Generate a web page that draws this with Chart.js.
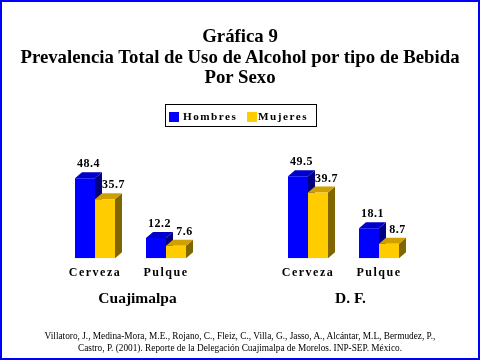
<!DOCTYPE html>
<html lang="es">
<head>
<meta charset="utf-8">
<title>Gráfica 9</title>
<script src="https://cdn.jsdelivr.net/npm/chart.js@4/dist/chart.umd.min.js"></script>
<style>
  html, body { margin: 0; padding: 0; background: #fff; }
  #page { position: relative; width: 480px; height: 360px; overflow: hidden; font-family: "Liberation Serif", "Times New Roman", serif; color: #000; }
  #frame { position: absolute; inset: 0; border: 2px solid #0000ff; box-sizing: border-box; pointer-events: none; z-index: 5; }
  #chartBox { position: absolute; left: 0; top: 0; width: 480px; height: 360px; }
  #title { position: absolute; left: 0; top: 26px; width: 480px; text-align: center; font-weight: bold; font-size: 18.8px; line-height: 20.5px; }
  #legend { position: absolute; left: 165px; top: 104px; width: 150px; height: 21px; border: 1px solid #000; font-weight: bold; font-size: 11.2px; letter-spacing: 1.5px; }
  #legend span { position: absolute; top: 4px; line-height: 14px; }
  #legend i { position: absolute; top: 7px; width: 10px; height: 10px; }
  #note { position: absolute; left: 0; top: 330px; width: 480px; text-align: center; font-size: 9.3px; line-height: 12px; }
</style>
</head>
<body>
<div id="page">
  <div id="chartBox"><canvas id="chart"></canvas></div>
  <div id="title">Gráfica 9<br>Prevalencia Total de Uso de Alcohol por tipo de Bebida<br>Por Sexo</div>
  <div id="legend"></div>
  <div id="note">Villatoro, J., Medina-Mora, M.E., Rojano, C., Fleiz, C., Villa, G., Jasso, A., Alcántar, M.L, Bermudez, P.,<br>Castro, P. (2001). Reporte de la Delegación Cuajimalpa de Morelos. INP-SEP. México.</div>
  <div id="frame"></div>
</div>
<script>
// --------------------
// Data
// --------------------
const groups = ['Cuajimalpa', 'D. F.'];
const bebidas = ['Cerveza', 'Pulque'];
const seriesNames = ['Hombres', 'Mujeres'];
// values per group, in bebidas order
const hombres = [[48.4, 12.2], [49.5, 18.1]];
const mujeres = [[35.7, 7.6], [39.7, 8.7]];

// --------------------
// Styles
// --------------------
const FRONT = ['#0000ff', '#ffcc00'];
const TOP = ['#0000c8', '#d0a000'];
const SIDE = ['#000080', '#806600'];
const DEPTH_X = 7;
const DEPTH_Y = 6;
const LABEL_SHIFT = [0, 5];

// one empty slot between the two groups
function withGap(rows) {
  const out = [];
  rows.forEach((r, i) => {
    if (i > 0) out.push(null);
    r.forEach(v => out.push(v));
  });
  return out;
}

const labels = withGap(groups.map(() => bebidas)).map(l => l || '');

// --------------------
// Legend (html)
// --------------------
function buildLegend() {
  const el = document.getElementById('legend');
  const pos = [{ box: 3, text: 17 }, { box: 81, text: 92 }];
  seriesNames.forEach((name, i) => {
    const sw = document.createElement('i');
    sw.style.left = pos[i].box + 'px';
    sw.style.background = FRONT[i];
    const tx = document.createElement('span');
    tx.style.left = pos[i].text + 'px';
    tx.textContent = name;
    el.appendChild(sw);
    el.appendChild(tx);
  });
}

// --------------------
// Plugins
// --------------------
const depthFaces = {
  id: 'depthFaces',
  beforeDraw(chart) {
    // spaced category ticks, as in the original
    chart.ctx.letterSpacing = '1.5px';
  },
  beforeDatasetsDraw(chart) {
    const ctx = chart.ctx;
    ctx.letterSpacing = '0px';
    chart.data.datasets.forEach((ds, d) => {
      chart.getDatasetMeta(d).data.forEach((bar, i) => {
        if (ds.data[i] == null) return;
        const { x, y, base, width } = bar.getProps(['x', 'y', 'base', 'width'], true);
        const x0 = x - width / 2;
        const x1 = x + width / 2;
        ctx.save();
        ctx.fillStyle = SIDE[d];
        ctx.beginPath();
        ctx.moveTo(x1, base);
        ctx.lineTo(x1 + DEPTH_X, base - DEPTH_Y);
        ctx.lineTo(x1 + DEPTH_X, y - DEPTH_Y);
        ctx.lineTo(x1, y);
        ctx.closePath();
        ctx.fill();
        ctx.fillStyle = TOP[d];
        ctx.beginPath();
        ctx.moveTo(x0, y);
        ctx.lineTo(x0 + DEPTH_X, y - DEPTH_Y);
        ctx.lineTo(x1 + DEPTH_X, y - DEPTH_Y);
        ctx.lineTo(x1, y);
        ctx.closePath();
        ctx.fill();
        ctx.restore();
      });
    });
  },
  afterDatasetsDraw(chart) {
    const ctx = chart.ctx;
    ctx.save();
    ctx.font = 'bold 12px "Liberation Serif"';
    ctx.letterSpacing = '0.5px';
    ctx.fillStyle = '#000';
    ctx.textAlign = 'center';
    ctx.textBaseline = 'alphabetic';
    chart.data.datasets.forEach((ds, d) => {
      chart.getDatasetMeta(d).data.forEach((bar, i) => {
        const v = ds.data[i];
        if (v == null) return;
        ctx.fillText(v.toFixed(1), bar.x + DEPTH_X / 2 + LABEL_SHIFT[d], bar.y - DEPTH_Y - 5);
      });
    });
    ctx.restore();
  },
  afterDraw(chart) {
    const ctx = chart.ctx;
    const xs = chart.scales.x;
    ctx.save();
    ctx.font = 'bold 15.5px "Liberation Serif"';
    ctx.letterSpacing = '0px';
    ctx.fillStyle = '#000';
    ctx.textAlign = 'center';
    ctx.textBaseline = 'middle';
    groups.forEach((g, gi) => {
      const first = gi * (bebidas.length + 1);
      const last = first + bebidas.length - 1;
      const cx = (xs.getPixelForValue(first) + xs.getPixelForValue(last)) / 2 + DEPTH_X;
      ctx.fillText(g, cx, 299);
    });
    ctx.restore();
  }
};

// --------------------
// Chart
// --------------------
function createChart() {
  const ctx = document.getElementById('chart');
  return new Chart(ctx, {
    type: 'bar',
    data: {
      labels,
      datasets: [
        { label: seriesNames[0], data: withGap(hombres), backgroundColor: FRONT[0] },
        { label: seriesNames[1], data: withGap(mujeres), backgroundColor: FRONT[1] }
      ]
    },
    options: {
      responsive: true,
      maintainAspectRatio: false,
      animation: false,
      devicePixelRatio: 1,
      categoryPercentage: 40 / 71,
      barPercentage: 1,
      layout: { padding: { top: 159, left: 59.5, right: 65.5, bottom: 71.4 } },
      plugins: {
        legend: { display: false },
        tooltip: { enabled: false }
      },
      scales: {
        x: {
          grid: { display: false, drawTicks: false },
          border: { display: false },
          ticks: {
            padding: 8,
            color: '#000',
            font: { family: '"Liberation Serif"', size: 12, weight: 'bold' }
          }
        },
        y: { display: false, min: 0, max: 60 }
      }
    },
    plugins: [depthFaces]
  });
}

buildLegend();
createChart();
</script>
</body>
</html>
